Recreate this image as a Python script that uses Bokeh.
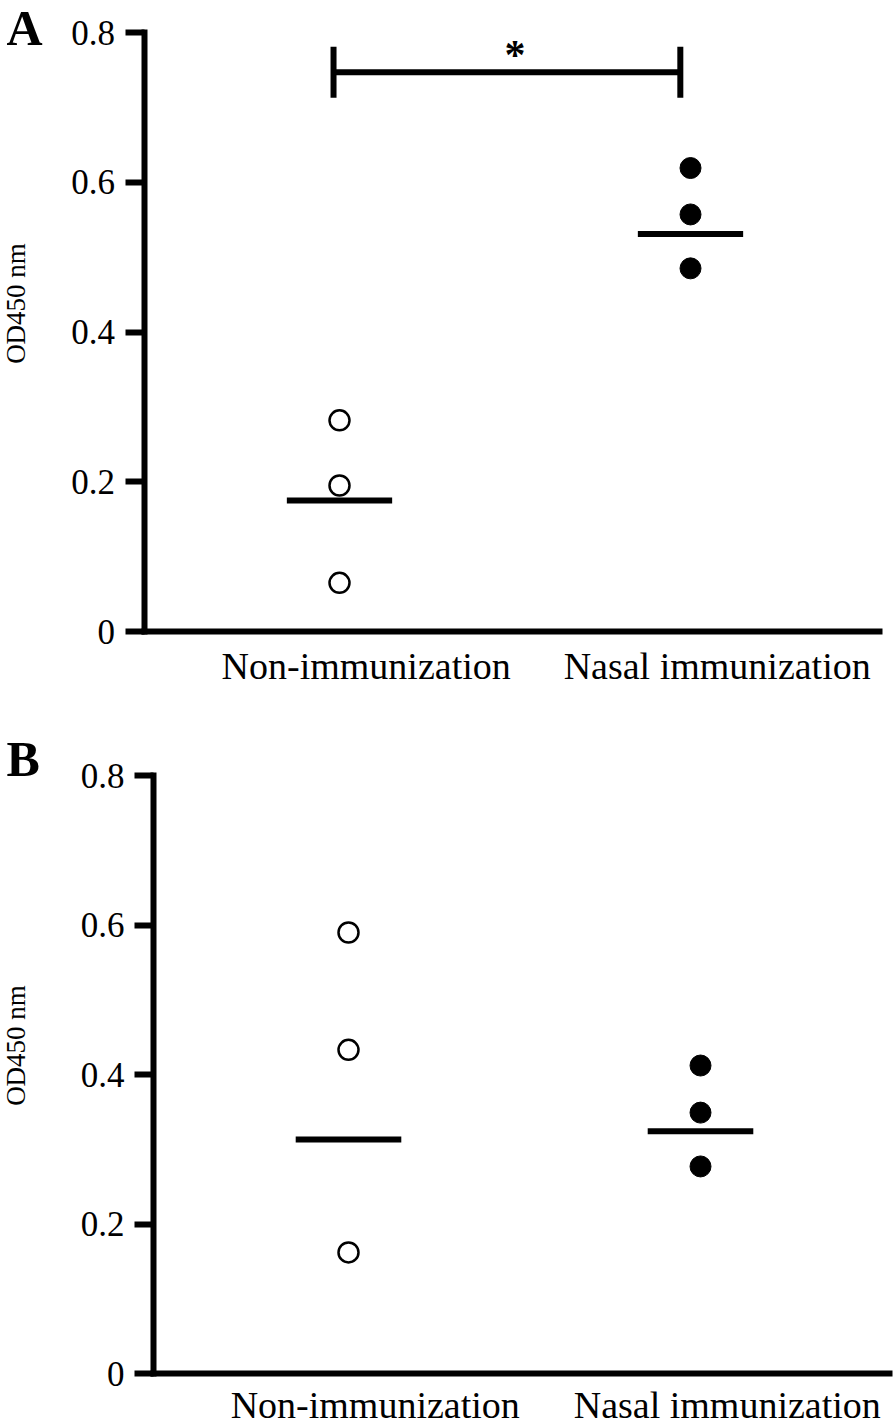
import math
from bokeh.plotting import figure
from bokeh.models import Range1d, FixedTicker, LinearAxis
from bokeh.layouts import column
from bokeh.embed import file_html
from bokeh.resources import INLINE
from bokeh.core.properties import value

# ---------------- data ----------------
categories = ["Non-immunization", "Nasal immunization"]
group_pos = [1, 2]
y_ticks = [0, 0.2, 0.4, 0.6, 0.8]
y_tick_labels = ["0", "0.2", "0.4", "0.6", "0.8"]
y_label = "OD450 nm"
panel_letters = ["A", "B"]

a_non = [0.282, 0.195, 0.065]
a_nasal = [0.619, 0.557, 0.485]
a_means = [0.175, 0.531]
a_sig_text = "*"
a_sig_level = 0.747

b_non = [0.590, 0.433, 0.162]
b_nasal = [0.412, 0.349, 0.277]
b_means = [0.313, 0.324]

# ---------------- layout ----------------
FONT = "Liberation Serif"
W = 894
LABEL_SHIFT = 0.076
MEAN_HALF = 0.15


def px_map(p0, v0, p1, v1):
    k = (v1 - v0) / (p1 - p0)
    return lambda px: v0 + (px - p0) * k


def make_panel(letter, non, nasal, means, top, height, xa_px, ya_px,
               axis_px, xend_px, letter_px, ylabel_px, xlabel_standoff,
               sig=None):
    X = px_map(xa_px[0], group_pos[0], xa_px[1], group_pos[1])
    Y = px_map(ya_px[0], 0.0, ya_px[1], 0.8)
    p = figure(width=W, height=height,
               x_range=Range1d(X(0), X(W)),
               y_range=Range1d(Y(top + height), Y(top)),
               output_backend="svg", toolbar_location=None,
               x_axis_location=None, y_axis_location=None,
               min_border=0, min_border_left=0, min_border_right=0,
               min_border_top=0, min_border_bottom=0)
    p.outline_line_color = None
    p.background_fill_color = "white"
    p.border_fill_color = "white"
    p.xgrid.visible = False
    p.ygrid.visible = False

    # y axis (fixed inside the canvas)
    ya = LinearAxis(fixed_location=X(axis_px),
                    bounds=(Y(ya_px[0] + 3), Y(ya_px[1] - 3)))
    ya.ticker = FixedTicker(ticks=y_ticks)
    ya.major_label_overrides = {t: l for t, l in zip(y_ticks, y_tick_labels)}
    ya.axis_line_width = 6
    ya.axis_line_color = "black"
    ya.major_tick_line_width = 6
    ya.major_tick_line_color = "black"
    ya.major_tick_out = 19
    ya.major_tick_in = 0
    ya.minor_tick_line_color = None
    ya.major_label_standoff = 10
    ya.major_label_text_font = FONT
    ya.major_label_text_font_size = "35px"
    ya.major_label_text_color = "black"
    p.add_layout(ya, "left")

    # x axis (fixed at y = 0)
    xa = LinearAxis(fixed_location=0, bounds=(X(axis_px - 3), X(xend_px)))
    xt = [g + LABEL_SHIFT for g in group_pos]
    xa.ticker = FixedTicker(ticks=xt)
    xa.major_label_overrides = {t: c for t, c in zip(xt, categories)}
    xa.axis_line_width = 6
    xa.axis_line_color = "black"
    xa.major_tick_line_color = None
    xa.minor_tick_line_color = None
    xa.major_tick_out = 0
    xa.major_tick_in = 0
    xa.major_label_standoff = xlabel_standoff
    xa.major_label_text_font = FONT
    xa.major_label_text_font_size = "38px"
    xa.major_label_text_color = "black"
    p.add_layout(xa, "below")

    # points
    p.scatter([group_pos[0]] * len(non), non, size=20, marker="circle",
              fill_color="white", line_color="black", line_width=2.5)
    p.scatter([group_pos[1]] * len(nasal), nasal, size=21, marker="circle",
              fill_color="black", line_color="black", line_width=1)

    # mean lines
    p.segment(x0=[g - MEAN_HALF for g in group_pos],
              x1=[g + MEAN_HALF for g in group_pos],
              y0=means, y1=means, line_color="black", line_width=6)

    if sig is not None:
        text, level = sig
        x0, x1 = group_pos[0] - 0.017, group_pos[1] - 0.029
        cap = 0.034
        p.segment(x0=[x0, x0, x1], x1=[x1, x0, x1],
                  y0=[level, level - cap, level - cap],
                  y1=[level, level + cap, level + cap],
                  line_color="black", line_width=6)
        p.text(x=[(group_pos[0] + group_pos[1]) / 2], y=[level + 0.0230],
               text=[text], text_align="center", text_baseline="alphabetic",
               text_font=value(FONT), text_font_size="42px",
               text_font_style="bold", text_color="black")

    # panel letter
    p.text(x=[X(letter_px[0])], y=[Y(letter_px[1])], text=[letter],
           text_align="left", text_baseline="alphabetic",
           text_font=value(FONT), text_font_size="50px",
           text_font_style="bold", text_color="black")
    # y axis title
    p.text(x=[X(ylabel_px[0])], y=[Y(ylabel_px[1])], text=[y_label],
           angle=math.pi / 2, text_align="center", text_baseline="middle",
           text_font=value(FONT), text_font_size="27px", text_color="black")
    return p


pA = make_panel(panel_letters[0], a_non, a_nasal, a_means, top=0, height=700,
                xa_px=(339, 690), ya_px=(631, 32), axis_px=143.5, xend_px=882,
                letter_px=(6, 27), ylabel_px=(15, 303), xlabel_standoff=13,
                sig=(a_sig_text, a_sig_level))
pB = make_panel(panel_letters[1], b_non, b_nasal, b_means, top=700, height=724,
                xa_px=(348, 700), ya_px=(1373, 775), axis_px=153, xend_px=892,
                letter_px=(6, 758), ylabel_px=(15, 1045), xlabel_standoff=10)

layout = column(pA, pB, spacing=0)
open("out.html", "w").write(file_html(layout, INLINE))
